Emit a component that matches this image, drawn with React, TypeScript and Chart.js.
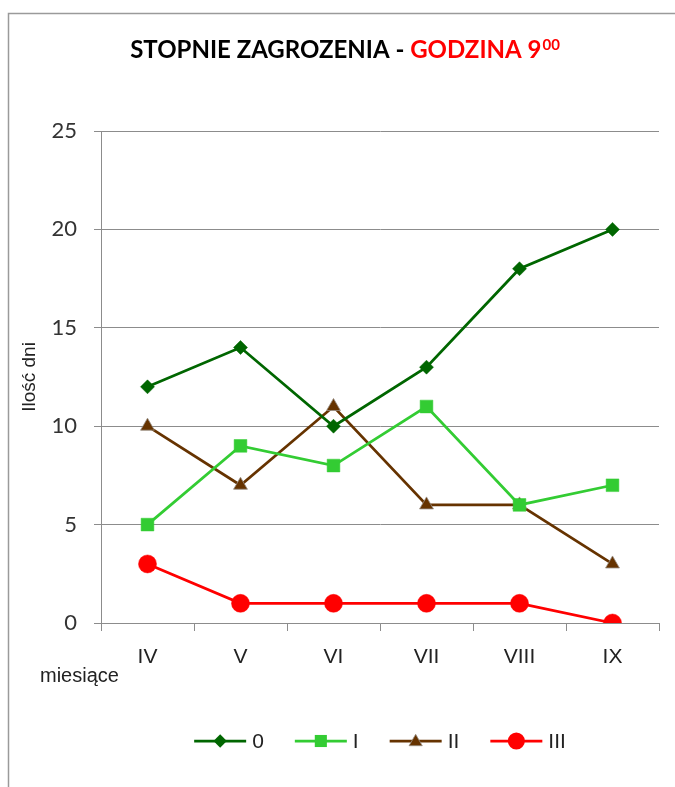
import React, { useEffect, useRef } from 'react';
import { Chart, registerables } from 'chart.js';

Chart.register(...registerables);

const months = ['IV', 'V', 'VI', 'VII', 'VIII', 'IX'];
const level0 = [12, 14, 10, 13, 18, 20];
const level1 = [5, 9, 8, 11, 6, 7];
const level2 = [10, 7, 11, 6, 6, 3];
const level3 = [3, 1, 1, 1, 1, 0];
const seriesNames = ['0', 'I', 'II', 'III'];
const yMin = 0;
const yMax = 25;
const yStep = 5;
const titleBlack = 'STOPNIE ZAGROZENIA - ';
const titleRed = 'GODZINA 9';
const titleSup = '00';
const yTitle = 'Ilość dni';
const xTitle = 'miesiące';

const COLORS = ['#006600', '#33CC33', '#663300', '#FF0000'];
const STYLES = ['rectRot', 'rect', 'triangle', 'circle'];
const RADII = [7, 9, 8, 9];

function drawMarker(ctx: CanvasRenderingContext2D, style: string, x: number, y: number, r: number, fill: string) {
  ctx.save();
  ctx.fillStyle = fill;
  ctx.beginPath();
  if (style === 'rectRot') {
    ctx.moveTo(x - r, y);
    ctx.lineTo(x, y - r);
    ctx.lineTo(x + r, y);
    ctx.lineTo(x, y + r);
    ctx.closePath();
  } else if (style === 'rect') {
    const s = Math.SQRT1_2 * r;
    ctx.rect(x - s, y - s, 2 * s, 2 * s);
  } else if (style === 'triangle') {
    const h = r * 1.5;
    const w = r * Math.sqrt(3) / 2;
    ctx.moveTo(x, y - h / 2 - 1);
    ctx.lineTo(x + w, y + h / 2 - 1);
    ctx.lineTo(x - w, y + h / 2 - 1);
    ctx.closePath();
  } else {
    ctx.arc(x, y, r, 0, Math.PI * 2);
  }
  ctx.fill();
  if (style === 'triangle') {
    ctx.strokeStyle = 'rgba(150,140,130,0.8)';
    ctx.lineWidth = 1;
    ctx.stroke();
  }
  ctx.restore();
}

const decorPlugin = {
  id: 'decor',
  beforeDraw(chart: any) {
    const ctx: CanvasRenderingContext2D = chart.ctx;
    ctx.save();
    ctx.fillStyle = '#ffffff';
    ctx.fillRect(0, 0, chart.width, chart.height);
    ctx.strokeStyle = '#9a9a9a';
    ctx.lineWidth = 1.5;
    ctx.beginPath();
    ctx.moveTo(8.5, chart.height);
    ctx.lineTo(8.5, 13.5);
    ctx.lineTo(chart.width, 13.5);
    ctx.stroke();
    ctx.restore();
  },
  afterDraw(chart: any) {
    const ctx: CanvasRenderingContext2D = chart.ctx;
    const area = chart.chartArea;
    ctx.save();
    // title
    const fMain = 'bold 24px Lato';
    const fSup = 'bold 15px Lato';
    ctx.font = fMain;
    const w1 = ctx.measureText(titleBlack).width;
    const w2 = ctx.measureText(titleRed).width;
    ctx.font = fSup;
    const w3 = ctx.measureText(titleSup).width;
    const total = w1 + w2 + w3 + 1;
    let tx = 345 - total / 2;
    const ty = 58;
    ctx.textBaseline = 'alphabetic';
    ctx.textAlign = 'left';
    ctx.font = fMain;
    ctx.fillStyle = '#000000';
    ctx.fillText(titleBlack, tx, ty);
    tx += w1;
    ctx.fillStyle = '#FF0000';
    ctx.fillText(titleRed, tx, ty);
    tx += w2 + 1;
    ctx.font = fSup;
    ctx.fillText(titleSup, tx, ty - 8);

    // y title
    ctx.font = '19px "Liberation Sans"';
    ctx.fillStyle = '#222';
    ctx.save();
    ctx.translate(30, 377);
    ctx.rotate(-Math.PI / 2);
    ctx.textAlign = 'center';
    ctx.textBaseline = 'middle';
    ctx.fillText(yTitle, 0, 0);
    ctx.restore();

    // x title
    ctx.font = '20px "Liberation Sans"';
    ctx.textAlign = 'left';
    ctx.textBaseline = 'middle';
    ctx.fillText(xTitle, 40, 676);

    // legend
    ctx.font = '21px "Liberation Sans"';
    const lineLen = 52;
    const gapText = 6;
    const gapItem = 31;
    const widths = seriesNames.map((n) => ctx.measureText(n).width);
    const legW = widths.reduce((a, w) => a + lineLen + gapText + w, 0) + gapItem * (seriesNames.length - 1);
    let lx = (area.left + area.right) / 2 - legW / 2;
    const ly = 741;
    seriesNames.forEach((n, i) => {
      ctx.strokeStyle = COLORS[i];
      ctx.lineWidth = 2.75;
      ctx.beginPath();
      ctx.moveTo(lx, ly);
      ctx.lineTo(lx + lineLen, ly);
      ctx.stroke();
      drawMarker(ctx, STYLES[i], lx + lineLen / 2, ly, RADII[i] * 0.95, COLORS[i]);
      ctx.fillStyle = '#222';
      ctx.textAlign = 'left';
      ctx.textBaseline = 'middle';
      ctx.fillText(n, lx + lineLen + gapText, ly + 1);
      lx += lineLen + gapText + widths[i] + gapItem;
    });
    ctx.restore();
  },
};

export default function App() {
  const ref = useRef<HTMLCanvasElement>(null);
  useEffect(() => {
    document.body.style.margin = '0';
    const seriesData = [level0, level1, level2, level3];
    const chart = new Chart(ref.current as HTMLCanvasElement, {
      type: 'line',
      data: {
        labels: months,
        datasets: seriesNames.map((name, i) => ({
          label: name,
          data: seriesData[i],
          borderColor: COLORS[i],
          backgroundColor: COLORS[i],
          borderWidth: 2.75,
          pointStyle: STYLES[i] as any,
          pointRadius: RADII[i],
          pointBackgroundColor: COLORS[i],
          pointBorderColor: i === 2 ? 'rgba(150,140,130,0.8)' : COLORS[i],
          pointBorderWidth: i === 2 ? 1 : 0.5,
          tension: 0,
          fill: false,
        })),
      },
      options: {
        responsive: false,
        animation: false,
        layout: { padding: { left: 0, right: 16, top: 131, bottom: 0 } },
        plugins: {
          legend: { display: false },
          title: { display: false },
          tooltip: { enabled: false },
        },
        scales: {
          x: {
            type: 'category',
            offset: true,
            grid: {
              display: true,
              drawOnChartArea: false,
              drawTicks: true,
              tickLength: 8,
              color: '#8c8c8c',
              offset: true,
            },
            border: { display: true, color: '#8c8c8c' },
            ticks: {
              font: { family: '"Liberation Sans"', size: 21 },
              color: '#222',
              padding: 14,
              maxRotation: 0,
              autoSkip: false,
            },
            afterFit: (s: any) => {
              s.height = 164;
            },
          },
          y: {
            min: yMin,
            max: yMax,
            ticks: {
              stepSize: yStep,
              font: { family: 'Lato', size: 22 },
              color: '#333',
              padding: 17,
            },
            grid: { color: '#8c8c8c', tickLength: 7, drawTicks: true },
            border: { display: true, color: '#8c8c8c' },
            afterFit: (s: any) => {
              s.width = 101;
            },
          },
        },
      },
      plugins: [decorPlugin],
    });
    return () => chart.destroy();
  }, []);
  return (
    <div style={{ position: 'absolute', left: 0, top: 0, width: 675, height: 787 }}>
      <canvas ref={ref} width={675} height={787} style={{ display: 'block', width: 675, height: 787 }} />
    </div>
  );
}
